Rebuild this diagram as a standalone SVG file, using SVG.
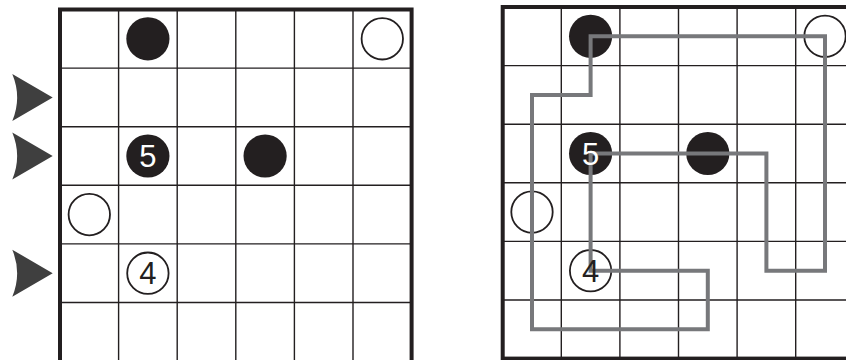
<svg xmlns="http://www.w3.org/2000/svg" width="846" height="360" viewBox="0 0 846 360">
<style>
.grid{stroke:#231f20;stroke-width:1.4;fill:none}
.border{stroke:#231f20;stroke-width:4;fill:none}
.black{fill:#231f20}
.white{fill:#fff;stroke:#231f20;stroke-width:1.8}
.num{font-family:"Liberation Sans",Arial,sans-serif;font-size:31px;text-anchor:middle}
.loop{fill:none;stroke:#77787b;stroke-width:4;stroke-linejoin:miter}
.arrow{fill:#3f3f3f}
</style>
<defs>
<path id="arr" d="M-40.4,-23.5 L0,0 L-40.4,23.5 Q-30.7,0 -40.4,-23.5 Z"/>
</defs>
<rect width="846" height="360" fill="#fff"/>

<g id="left-grid">
<path class="grid" d="M118.6,9.5V362M177.2,9.5V362M235.8,9.5V362M294.4,9.5V362M353,9.5V362M60,68.1H411.6M60,126.7H411.6M60,185.3H411.6M60,243.9H411.6M60,302.5H411.6"/>
<rect class="border" x="60" y="9.5" width="351.6" height="358"/>
</g>
<g id="left-arrows">
<use href="#arr" class="arrow" x="52.7" y="97.4"/>
<use href="#arr" class="arrow" x="52.7" y="156"/>
<use href="#arr" class="arrow" x="52.7" y="273.2"/>
</g>
<g id="L-b-r0c1"><circle class="black" cx="147.9" cy="38.8" r="21.6"/></g>
<g id="L-w-r0c5"><circle class="white" cx="382.3" cy="38.8" r="20.7"/></g>
<g id="L-b-r2c1"><circle class="black" cx="147.9" cy="156" r="21.6"/><text class="num" x="147.9" y="167" fill="#fff">5</text></g>
<g id="L-b-r2c3"><circle class="black" cx="265.1" cy="156" r="21.6"/></g>
<g id="L-w-r3c0"><circle class="white" cx="89.3" cy="214.6" r="20.7"/></g>
<g id="L-w-r4c1"><circle class="white" cx="147.9" cy="273.2" r="20.7"/><text class="num" x="147.9" y="284.2" fill="#231f20">4</text></g>

<g id="right-grid">
<path class="grid" d="M561.3,7V358.6M619.9,7V358.6M678.5,7V358.6M737.1,7V358.6M795.7,7V358.6M502.7,65.6H854.3M502.7,124.2H854.3M502.7,182.8H854.3M502.7,241.4H854.3M502.7,300H854.3"/>
<rect class="border" x="502.7" y="7" width="351.6" height="351.6"/>
</g>
<g id="R-b-r0c1"><circle class="black" cx="590.6" cy="36.3" r="21.6"/></g>
<g id="R-w-r0c5"><circle class="white" cx="825" cy="36.3" r="20.7"/></g>
<g id="R-b-r2c1"><circle class="black" cx="590.6" cy="153.5" r="21.6"/></g>
<g id="R-b-r2c3"><circle class="black" cx="707.8" cy="153.5" r="21.6"/></g>
<g id="R-w-r3c0"><circle class="white" cx="532" cy="212.1" r="20.7"/></g>
<g id="R-w-r4c1"><circle class="white" cx="590.6" cy="270.7" r="20.7"/></g>
<g id="connectors">
<path class="loop" d="M590.6,36.3H825V270.7H766.4V153.5H590.6V270.7H707.8V329.3H532V95H590.6Z"/>
</g>
<g id="R-labels">
<text class="num" x="590.6" y="164.5" fill="#fff">5</text>
<text class="num" x="590.6" y="281.7" fill="#231f20">4</text>
</g>
</svg>
